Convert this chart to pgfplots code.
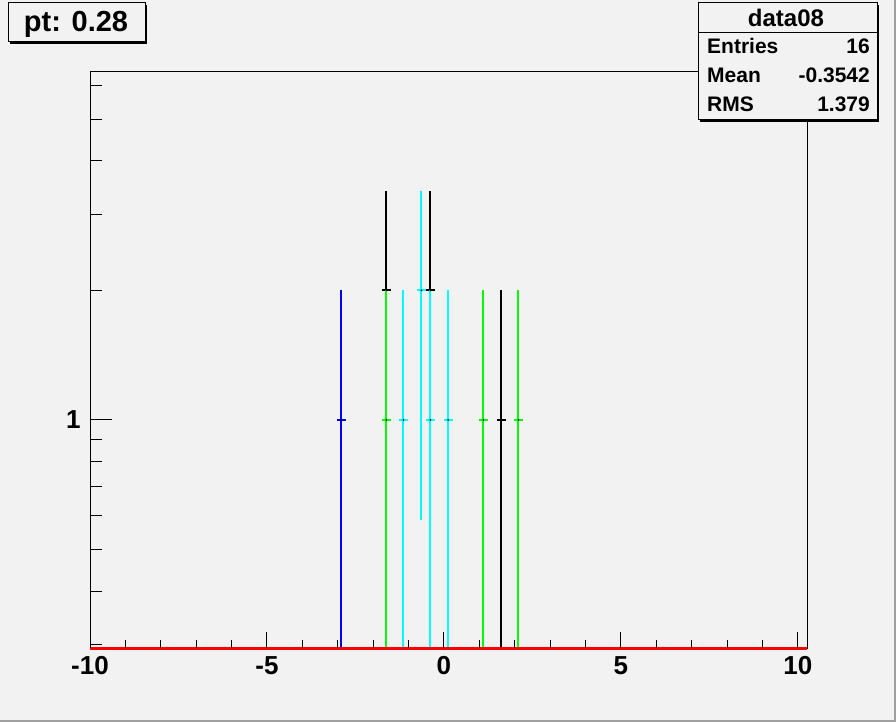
\documentclass[border=0pt]{standalone}
\usepackage{pgfplots}
\pgfplotsset{compat=1.18}
\usepackage{pgfplotstable}
\usepackage{fontspec}
\setmainfont{Liberation Sans}
\definecolor{bg}{HTML}{F2F2F2}
\definecolor{rgreen}{HTML}{00FF00}
\definecolor{rcyan}{HTML}{00FFFF}
\definecolor{rblue}{HTML}{0000FF}
\definecolor{rred}{HTML}{FF0000}
\definecolor{border}{HTML}{A0A0A0}

% x  y  x-error  y-error-plus  y-error-minus (lower ends of unit bins run to the axis floor)
\pgfplotstableread{
x y ex ep em
-1.626 2 0.127 1.414 1.414
-0.382 2 0.127 1.414 1.414
1.626 1 0.127 1 0.705
}\blackdata
\pgfplotstableread{
x y ex ep em
-2.906 1 0.127 1 0.705
}\bluedata
\pgfplotstableread{
x y ex ep em
-1.626 1 0.127 1 0.705
1.117 1 0.127 1 0.705
2.106 1 0.127 1 0.705
}\greendata
\pgfplotstableread{
x y ex ep em
-1.145 1 0.127 1 0.705
-0.636 2 0.127 1.414 1.414
-0.382 1 0.127 1 0.705
0.119 1 0.127 1 0.705
}\cyandata
\pgfplotstableread{
x y
-10 0.295
10.26 0.295
}\reddata

\pgfplotsset{
  rootbars/.style={only marks, mark=*, mark size=0.6pt,
    mark options={draw=black, fill=black},
    error bars/.cd, x dir=both, x explicit, y dir=both, y explicit,
    error mark=none, error bar style={#1, line width=2pt}},
  rootframe/.style={
    at={(90pt,74pt)}, anchor=south west,
    scale only axis, width=717pt, height=576pt,
    xmin=-10, xmax=10.26,
    tick align=inside,
    every tick/.style={black, line width=1pt},
    tick label style={font=\bfseries\fontsize{26}{26}\selectfont},
  },
}

\begin{document}
\begin{tikzpicture}
\useasboundingbox (0pt,0pt) rectangle (896pt,722pt);
\fill[bg] (0pt,0pt) rectangle (896pt,722pt);
\fill[border] (0pt,0pt) rectangle (896pt,2pt);
\fill[border] (894pt,0pt) rectangle (896pt,722pt);
\begin{axis}[
  rootframe,
  clip=false,
  ymode=log, ymin=0.295, ymax=6.44,
  axis line style={black, line width=1pt},
  xtick=\empty,
  ytick={1},
  yticklabels={1},
  minor ytick={0.3,0.4,0.5,0.6,0.7,0.8,0.9,2,3,4,5,6},
  ytick pos=left,
  major tick length=22pt, minor tick length=12pt,
  yticklabel style={xshift=-6pt},
]
\addplot[rootbars=black] table[x=x, y=y, x error=ex, y error plus=ep, y error minus=em] {\blackdata};
\addplot[rootbars=rblue] table[x=x, y=y, x error=ex, y error plus=ep, y error minus=em] {\bluedata};
\addplot[rootbars=rgreen] table[x=x, y=y, x error=ex, y error plus=ep, y error minus=em] {\greendata};
\addplot[rootbars=rcyan] table[x=x, y=y, x error=ex, y error plus=ep, y error minus=em] {\cyandata};
\addplot[rred, line width=3pt, mark=none] table[x=x, y=y] {\reddata};
\end{axis}
\begin{axis}[
  rootframe,
  ymin=0, ymax=1,
  axis line style={draw=none},
  xtick={-10,-5,0,5,10},
  xticklabels={-10,-5,0,5,10},
  minor xtick={-9,-8,-7,-6,-4,-3,-2,-1,1,2,3,4,6,7,8,9},
  ytick=\empty,
  xtick pos=bottom,
  major tick length=16pt, minor tick length=8pt,
  xticklabel style={yshift=-5pt},
]
\end{axis}
% title box
\fill[black] (10pt,678pt) rectangle (147pt,717pt);
\filldraw[fill=bg, draw=black, line width=1pt] (8pt,680pt) rectangle (145pt,719pt);
\node[anchor=base, inner sep=0pt, font=\bfseries\fontsize{29}{29}\selectfont] at (76pt,690pt) {pt: 0.28};
% stats box
\fill[black] (700pt,600pt) rectangle (879pt,717pt);
\filldraw[fill=bg, draw=black, line width=1pt] (698pt,602pt) rectangle (877pt,719pt);
\draw[black, line width=1pt] (698pt,689pt) -- (877pt,689pt);
\node[anchor=base, inner sep=0pt, font=\bfseries\fontsize{24}{24}\selectfont] at (786pt,695pt) {data08};
\begin{scope}[every node/.style={inner sep=0pt, font=\bfseries\fontsize{21}{21}\selectfont}]
\node[anchor=base west] at (707pt,668pt) {Entries};
\node[anchor=base east] at (870pt,668pt) {16};
\node[anchor=base west] at (707pt,639pt) {Mean};
\node[anchor=base east] at (870pt,639pt) {-0.3542};
\node[anchor=base west] at (707pt,610pt) {RMS};
\node[anchor=base east] at (870pt,610pt) {1.379};
\end{scope}
\end{tikzpicture}
\end{document}
